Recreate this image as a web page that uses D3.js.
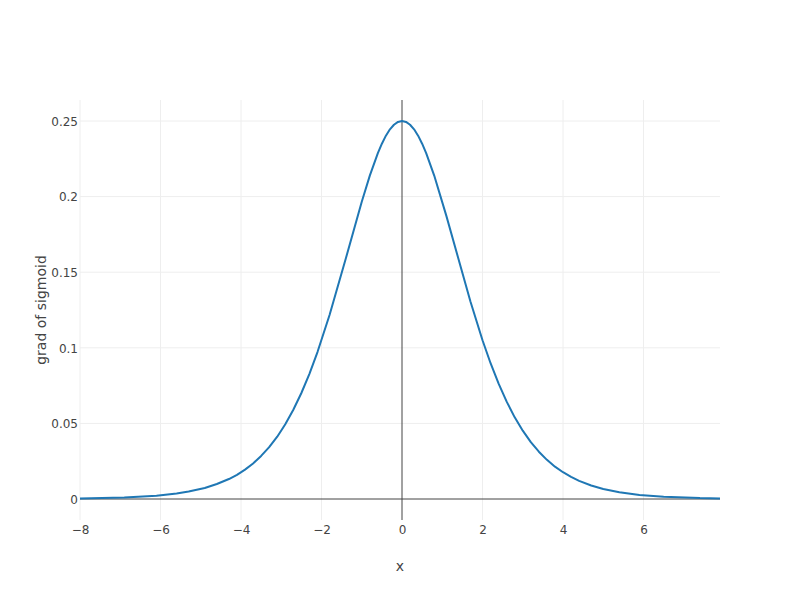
<!DOCTYPE html>
<html><head><meta charset="utf-8">
<script src="https://cdn.jsdelivr.net/npm/d3@7"></script>
<style>body{margin:0;background:#fff}svg{display:block}text{font-family:"DejaVu Sans",verdana,arial,sans-serif}</style>
</head><body>
<svg id="c" width="800" height="600"></svg>
<script>
const xValues = [
-8.0,-7.9,-7.8,-7.7,-7.6,-7.5,-7.4,-7.3,-7.2,-7.1,-7.0,-6.9,-6.8,-6.7,-6.6,-6.5,-6.4,-6.3,-6.2,-6.1,
-6.0,-5.9,-5.8,-5.7,-5.6,-5.5,-5.4,-5.3,-5.2,-5.1,-5.0,-4.9,-4.8,-4.7,-4.6,-4.5,-4.4,-4.3,-4.2,-4.1,
-4.0,-3.9,-3.8,-3.7,-3.6,-3.5,-3.4,-3.3,-3.2,-3.1,-3.0,-2.9,-2.8,-2.7,-2.6,-2.5,-2.4,-2.3,-2.2,-2.1,
-2.0,-1.9,-1.8,-1.7,-1.6,-1.5,-1.4,-1.3,-1.2,-1.1,-1.0,-0.9,-0.8,-0.7,-0.6,-0.5,-0.4,-0.3,-0.2,-0.1,
0.0,0.1,0.2,0.3,0.4,0.5,0.6,0.7,0.8,0.9,1.0,1.1,1.2,1.3,1.4,1.5,1.6,1.7,1.8,1.9,
2.0,2.1,2.2,2.3,2.4,2.5,2.6,2.7,2.8,2.9,3.0,3.1,3.2,3.3,3.4,3.5,3.6,3.7,3.8,3.9,
4.0,4.1,4.2,4.3,4.4,4.5,4.6,4.7,4.8,4.9,5.0,5.1,5.2,5.3,5.4,5.5,5.6,5.7,5.8,5.9,
6.0,6.1,6.2,6.3,6.4,6.5,6.6,6.7,6.8,6.9,7.0,7.1,7.2,7.3,7.4,7.5,7.6,7.7,7.8,7.9];
const gradValues = [
0.0003,0.0004,0.0004,0.0005,0.0005,0.0006,0.0006,0.0007,0.0007,0.0008,0.0009,
0.0010,0.0011,0.0012,0.0014,0.0015,0.0017,0.0018,0.0020,0.0022,0.0025,
0.0027,0.0030,0.0033,0.0037,0.0041,0.0045,0.0049,0.0055,0.0060,0.0066,
0.0073,0.0081,0.0089,0.0099,0.0109,0.0120,0.0132,0.0146,0.0160,0.0177,
0.0194,0.0214,0.0235,0.0259,0.0285,0.0313,0.0343,0.0376,0.0412,0.0452,
0.0494,0.0540,0.0590,0.0644,0.0701,0.0763,0.0828,0.0898,0.0972,0.1050,
0.1132,0.1217,0.1306,0.1398,0.1491,0.1587,0.1683,0.1779,0.1874,0.1966,
0.2055,0.2139,0.2217,0.2288,0.2350,0.2403,0.2445,0.2475,0.2494,
0.2500,0.2494,0.2475,0.2445,0.2403,0.2350,0.2288,0.2217,0.2139,0.2055,
0.1966,0.1874,0.1779,0.1683,0.1587,0.1491,0.1398,0.1306,0.1217,0.1132,
0.1050,0.0972,0.0898,0.0828,0.0763,0.0701,0.0644,0.0590,0.0540,0.0494,
0.0452,0.0412,0.0376,0.0343,0.0313,0.0285,0.0259,0.0235,0.0214,0.0194,
0.0177,0.0160,0.0146,0.0132,0.0120,0.0109,0.0099,0.0089,0.0081,0.0073,
0.0066,0.0060,0.0055,0.0049,0.0045,0.0041,0.0037,0.0033,0.0030,0.0027,
0.0025,0.0022,0.0020,0.0018,0.0017,0.0015,0.0014,0.0012,0.0011,0.0010,
0.0009,0.0008,0.0007,0.0007,0.0006,0.0006,0.0005,0.0005,0.0004,0.0004];
const xTicks = [-8,-6,-4,-2,0,2,4,6];
const yTicks = [0,0.05,0.1,0.15,0.2,0.25];
const yTickLabels = ["0","0.05","0.1","0.15","0.2","0.25"];
const xTitle = "x", yTitle = "grad of sigmoid";

const FONT = '"DejaVu Sans",verdana,arial,sans-serif';
const svg = d3.select("#c");
const m = {l:80, r:80, t:100, b:80}, W = 800, H = 600;
const x = d3.scaleLinear().domain([-8, 7.9]).range([m.l, W - m.r]);
const yMax = d3.max(gradValues), yMin = 0, pad = (yMax - yMin) / 18;
const y = d3.scaleLinear().domain([yMin - pad, yMax + pad]).range([H - m.b, m.t]);

const g = svg.append("g");
g.append("g").selectAll("line").data(xTicks.filter(d => d !== 0)).join("line")
  .attr("x1", d => x(d)).attr("x2", d => x(d)).attr("y1", m.t).attr("y2", H - m.b)
  .attr("stroke", "#eee").attr("stroke-width", 1);
g.append("g").selectAll("line").data(yTicks.filter(d => d !== 0)).join("line")
  .attr("y1", d => y(d)).attr("y2", d => y(d)).attr("x1", m.l).attr("x2", W - m.r)
  .attr("stroke", "#eee").attr("stroke-width", 1);
g.append("line").attr("x1", x(0)).attr("x2", x(0)).attr("y1", m.t).attr("y2", H - m.b)
  .attr("stroke", "#444").attr("stroke-width", 1);
g.append("line").attr("y1", y(0)).attr("y2", y(0)).attr("x1", m.l).attr("x2", W - m.r)
  .attr("stroke", "#444").attr("stroke-width", 1);

const xAxis = d3.axisBottom(x).tickValues(xTicks).tickSize(0).tickPadding(0)
  .tickFormat(d => d < 0 ? "\u2212" + Math.abs(d) : String(d));
const xa = svg.append("g").attr("transform", `translate(0,${H - m.b})`).call(xAxis);
xa.select(".domain").remove();
xa.selectAll("text").attr("font-size", 12).attr("fill", "#444").attr("dy", null).attr("y", 14)
  .attr("font-family", FONT);

const yAxis = d3.axisLeft(y).tickValues(yTicks).tickSize(0).tickPadding(2)
  .tickFormat((d, i) => yTickLabels[i]);
const ya = svg.append("g").attr("transform", `translate(${m.l},0)`).call(yAxis);
ya.select(".domain").remove();
ya.selectAll("text").attr("font-size", 12).attr("fill", "#444").attr("dy", "0.35em")
  .attr("font-family", FONT);

function simplify(p, tol) {
  const out = [p[0]];
  let s = 0;
  for (let e = 2; e < p.length; e++) {
    const [x0, y0] = p[s], [x1, y1] = p[e];
    const dx = x1 - x0, dy = y1 - y0, len = Math.hypot(dx, dy);
    let ok = true;
    for (let k = s + 1; k < e; k++) {
      const d = Math.abs(dy * (p[k][0] - x0) - dx * (p[k][1] - y0)) / len;
      if (d > tol) { ok = false; break; }
    }
    if (!ok) { out.push(p[e - 1]); s = e - 1; }
  }
  out.push(p[p.length - 1]);
  return out;
}
const pts = simplify(xValues.map((v, i) => [x(v), y(gradValues[i])]), 0.2);
svg.append("path").datum(pts)
  .attr("d", d3.line())
  .attr("fill", "none").attr("stroke", "#1f77b4").attr("stroke-width", 2)
  .attr("stroke-linejoin", "round");

svg.append("text").attr("x", (m.l + W - m.r) / 2).attr("y", 571).attr("text-anchor", "middle")
  .attr("font-size", 14).attr("fill", "#444").attr("font-family", FONT).text(xTitle);
svg.append("text").attr("transform", `translate(46,${(m.t + H - m.b) / 2}) rotate(-90)`)
  .attr("text-anchor", "middle").attr("font-size", 14).attr("fill", "#444").attr("font-family", FONT).text(yTitle);
</script>
</body></html>
